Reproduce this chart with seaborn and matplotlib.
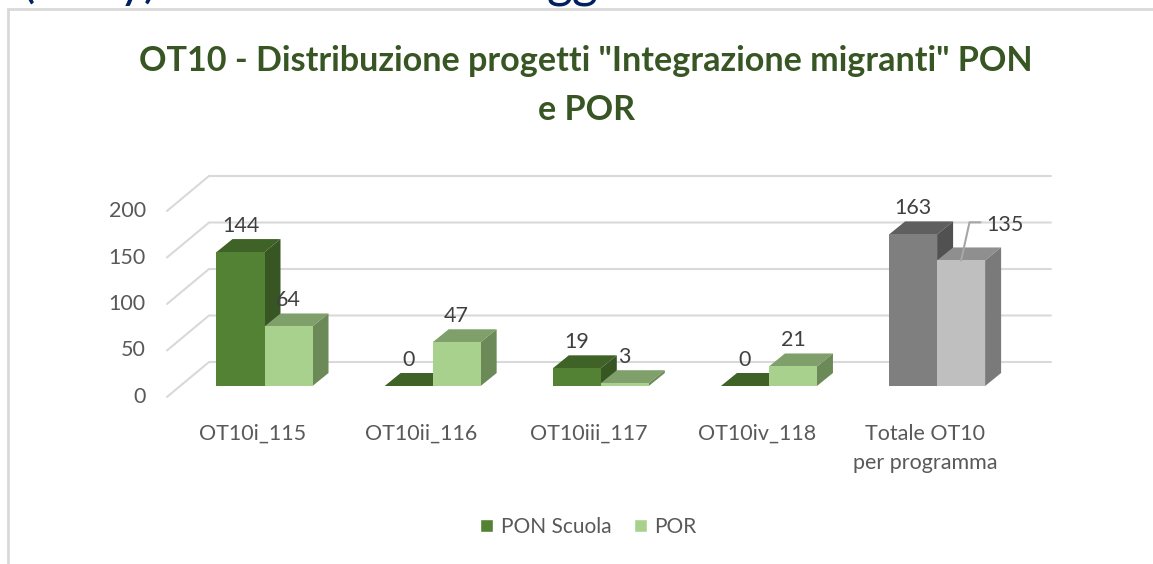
import matplotlib
matplotlib.use('Agg')
import matplotlib.pyplot as plt
import pandas as pd
import seaborn as sns
from matplotlib.patches import Polygon, Rectangle
from matplotlib.transforms import ScaledTranslation

sns.set_style("white")
plt.rcParams['font.family'] = ['Lato', 'DejaVu Sans']

categories = ['OT10i_115', 'OT10ii_116', 'OT10iii_117', 'OT10iv_118', 'Totale OT10\nper programma']
pon_values = [144, 0, 19, 0, 163]
por_values = [64, 47, 3, 21, 135]
series_names = ['PON Scuola', 'POR']
y_ticks = [0, 50, 100, 150, 200]

W, H = 1153, 564
PX_X = 168.15   # pixels per category
PX_Y = 0.93     # pixels per unit
DEPTH_X = 16 / PX_X
DEPTH_Y = 13 / PX_Y

# front face, top face, side face for each series, then the greys of the total
greens = [('#548235', '#3F6226', '#375623'), ('#A9D18E', '#7F9F6B', '#6B8A58')]
greys = [('#7F7F7F', '#5F5F5F', '#515151'), ('#BFBFBF', '#8F8F8F', '#7A7A7A')]

df = pd.DataFrame({
    'category': categories * 2,
    'value': pon_values + por_values,
    'series': [series_names[0]] * 5 + [series_names[1]] * 5,
})

fig = plt.figure(figsize=(W / 100, H / 100), dpi=100)
ax = fig.add_axes([150 / W, (H - 386) / H, 910 / W, 216 / H])

sns.barplot(data=df, x='category', y='value', hue='series', width=0.571, gap=0,
            palette=[g[0] for g in greens], saturation=1, ax=ax, zorder=3)
ax.set_xlim((150 - 264.5) / PX_X, (1060 - 264.5) / PX_X)
ax.set_ylim(0, 216 / PX_Y)
ax.set_xlabel('')
ax.set_ylabel('')
sns.despine(ax=ax, left=True, bottom=True)

# gridlines sit on the back wall with a slanted part on the left
for v in y_ticks:
    ax.plot([-0.58, -0.33, 4.677], [v - 11.8, v + 25.8, v + 25.8], color='#D9D9D9',
            lw=1.5, clip_on=False, zorder=1, solid_joinstyle='miter')

# 3D faces are built from the bars seaborn drew
for s, container in enumerate(ax.containers):
    for i, bar in enumerate(container):
        front, top, side = greys[s] if i == 4 else greens[s]
        bar.set_facecolor(front)
        bar.set_edgecolor('none')
        x0, w, h = bar.get_x(), bar.get_width(), bar.get_height()
        x1 = x0 + w
        z = 3 + s
        bar.set_zorder(z + 0.2)
        ax.add_patch(Polygon([(x0, h), (x1, h), (x1 + DEPTH_X, h + DEPTH_Y), (x0 + DEPTH_X, h + DEPTH_Y)],
                             facecolor=top, edgecolor='none', zorder=z, clip_on=False))
        ax.add_patch(Polygon([(x1, 0), (x1 + DEPTH_X, DEPTH_Y), (x1 + DEPTH_X, h + DEPTH_Y), (x1, h)],
                             facecolor=side, edgecolor='none', zorder=z, clip_on=False))
        if i == 4 and s == 1:
            # leader line for the last label
            cx = x0 + w / 2
            ax.plot([cx, cx + 0.05, cx + 0.115], [h, h + 41, h + 41], color='#A6A6A6',
                    lw=1.5, zorder=7, clip_on=False)
            ax.text(cx + 0.262, h + 38, str(int(h)), ha='center', va='center', fontsize=15.5,
                    color='#404040', zorder=8)
        else:
            ax.text(x0 + w / 2, h + DEPTH_Y + 13 / PX_Y, str(int(h)), ha='center', va='center',
                    fontsize=15.5, color='#404040', zorder=8)

ax.set_yticks(y_ticks)
ax.set_yticklabels([str(v) for v in y_ticks])
ax.tick_params(axis='y', length=0, pad=3, labelsize=15.5, labelcolor='#595959')
ax.tick_params(axis='x', length=0, pad=27, labelsize=15.5, labelcolor='#595959')
shift = fig.dpi_scale_trans
for label in ax.get_yticklabels():
    label.set_transform(label.get_transform() + ScaledTranslation(0, -9 / 100, shift))
for label in ax.get_xticklabels():
    label.set_transform(label.get_transform() + ScaledTranslation(-12 / 100, 0, shift))
    label.set_linespacing(1.6)

sns.move_legend(ax, 'center', bbox_to_anchor=(588.5 / W, (H - 527) / H), bbox_transform=fig.transFigure,
                ncol=2, frameon=False, title=None, fontsize=15, handlelength=0.62, handleheight=0.62,
                handletextpad=0.38, columnspacing=1.05, labelcolor='#595959')

fig.text(586 / W, (H - 61) / H, 'OT10 - Distribuzione progetti "Integrazione migranti" PON',
         ha='center', va='center', fontsize=24.6, fontweight='bold', color='#375623')
fig.text(586 / W, (H - 110) / H, 'e POR', ha='center', va='center', fontsize=24.6,
         fontweight='bold', color='#375623')

# outline of the pasted chart
fig.add_artist(Rectangle((7.5 / W, -0.02), 1.1, (H - 9) / H + 0.02, transform=fig.transFigure,
                         facecolor='none', edgecolor='#D9D9D9', lw=2))

# heading of the page above, cut by the top edge
for text, x_px in [('(', 22), ('y)', 118), ('gg', 547)]:
    fig.text(x_px / W, (H + 3) / H, text, ha='left', va='baseline', fontsize=36, color='#002060')

plt.savefig('out.png', dpi=100)
